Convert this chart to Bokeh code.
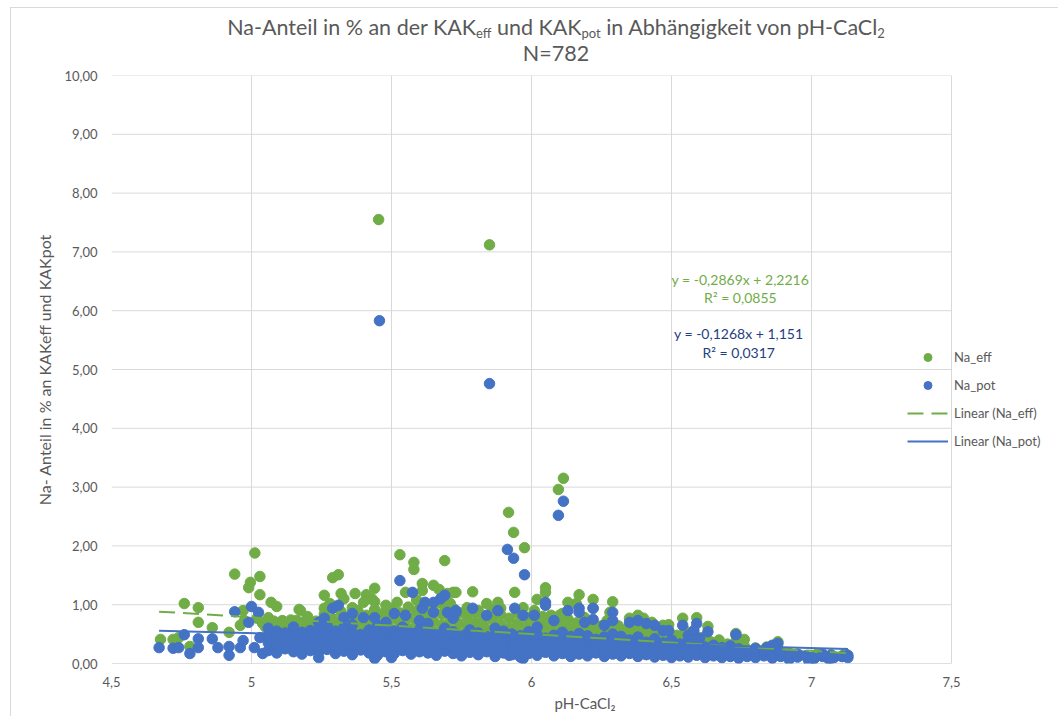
from bokeh.plotting import figure
from bokeh.models import Div, Legend, LegendItem, Label, CustomJSTickFormatter, FixedTicker
from bokeh.layouts import column
from bokeh.embed import file_html
from bokeh.resources import INLINE

# ---------------- data ----------------
x_ticks = [4.5, 5.0, 5.5, 6.0, 6.5, 7.0, 7.5]
y_ticks = [0, 1, 2, 3, 4, 5, 6, 7, 8, 9, 10]

# Na_eff: scattered / isolated points
eff_points = [
    (5.454, 7.55), (5.85, 7.12), (6.096, 2.96), (6.114, 3.15), (5.918, 2.57), (5.936, 2.23), (5.975, 1.97),
    (5.012, 1.88), (4.94, 1.52), (5.03, 1.48), (4.996, 1.38), (4.99, 1.29), (5.03, 1.17), (4.76, 1.02),
    (4.81, 0.95), (5.07, 1.04), (5.09, 0.97), (5.17, 0.92), (4.81, 0.70), (4.86, 0.61), (4.92, 0.53),
    (4.97, 0.90), (4.975, 0.73), (4.96, 0.65), (4.675, 0.41), (4.72, 0.41), (4.74, 0.44), (4.78, 0.29),
    (5.06, 0.78), (5.07, 0.70), (5.09, 0.61), (5.11, 0.73), (5.14, 0.68), (5.16, 0.73), (5.19, 0.68),
    (5.02, 0.77), (5.04, 0.68),
    (5.53, 1.85), (5.58, 1.72), (5.58, 1.60), (5.69, 1.75), (5.29, 1.46), (5.31, 1.51), (5.26, 1.16),
    (5.32, 1.19), (5.37, 1.19), (5.41, 1.17), (5.44, 1.28), (5.175, 0.90), (5.26, 0.94), (5.28, 1.02),
    (5.33, 1.10), (5.36, 0.95), (5.40, 1.04), (5.43, 1.10), (5.44, 0.90), (5.48, 0.99), (5.52, 1.04),
    (5.55, 1.21), (5.61, 1.36), (5.65, 1.33), (5.67, 1.26), (5.70, 1.19), (5.72, 1.21), (5.61, 1.24),
    (5.60, 0.94), (5.63, 0.87), (5.70, 0.90), (5.72, 0.94), (5.175, 0.70), (5.21, 0.70), (5.24, 0.61),
    (5.73, 1.21), (5.79, 1.22), (5.94, 1.21), (6.05, 1.29), (6.05, 1.21), (6.02, 1.09), (6.17, 1.17),
    (6.16, 1.02), (6.13, 1.04), (6.22, 1.09), (6.22, 0.94), (5.84, 1.02), (5.88, 1.04), (5.71, 1.02),
    (5.76, 0.87), (5.81, 0.90), (5.89, 0.94), (5.97, 0.95), (6.01, 0.87), (6.07, 0.82), (6.11, 0.85),
    (6.26, 0.61), (6.27, 0.73),
    (6.29, 1.05), (6.28, 0.87), (6.26, 0.65), (6.35, 0.77), (6.38, 0.82), (6.40, 0.77), (6.43, 0.70),
    (6.47, 0.65), (6.49, 0.66), (6.54, 0.77), (6.59, 0.78), (6.63, 0.63), (6.73, 0.51), (6.76, 0.41),
    (6.88, 0.37),
]

# Na_eff: dense band, as (pH, [values])
eff_columns = [
    (5.05, [0.45, 0.62]), (5.08, [0.38, 0.55, 0.72]), (5.11, [0.50, 0.66]), (5.14, [0.42, 0.58, 0.74]),
    (5.17, [0.36, 0.52, 0.68]), (5.20, [0.47, 0.63, 0.80]), (5.23, [0.40, 0.56, 0.72]),
    (5.26, [0.50, 0.66, 0.84]), (5.29, [0.44, 0.60, 0.76]), (5.32, [0.53, 0.70, 0.88]),
    (5.35, [0.46, 0.62, 0.80]), (5.38, [0.55, 0.72, 0.90]), (5.41, [0.48, 0.65, 0.82]),
    (5.44, [0.57, 0.74, 0.92, 1.05]), (5.47, [0.50, 0.67, 0.85]), (5.50, [0.58, 0.76, 0.93]),
    (5.53, [0.52, 0.69, 0.86]), (5.56, [0.60, 0.78, 0.96]), (5.59, [0.54, 0.71, 0.88, 1.08]),
    (5.62, [0.61, 0.79, 0.97]), (5.65, [0.55, 0.72, 0.90]), (5.68, [0.49, 0.66, 0.84, 1.02]),
    (5.71, [0.57, 0.74, 0.80]), (5.74, [0.51, 0.68, 0.86]), (5.77, [0.45, 0.62, 0.79, 0.95]),
    (5.80, [0.53, 0.70, 0.87]), (5.83, [0.47, 0.64, 0.80]), (5.86, [0.42, 0.58, 0.75, 0.92]),
    (5.89, [0.50, 0.66, 0.83]), (5.92, [0.44, 0.60, 0.77]), (5.95, [0.52, 0.68, 0.86]),
    (5.98, [0.46, 0.62, 0.79]), (6.01, [0.40, 0.56, 0.73, 0.90]), (6.04, [0.48, 0.64, 0.80]),
    (6.07, [0.42, 0.58, 0.74]), (6.10, [0.50, 0.66, 0.82]), (6.13, [0.44, 0.60, 0.76]),
    (6.16, [0.38, 0.53, 0.69]), (6.19, [0.46, 0.62, 0.78]), (6.22, [0.40, 0.55, 0.71]),
    (6.25, [0.34, 0.49, 0.64]), (6.28, [0.42, 0.57, 0.72]), (6.31, [0.36, 0.50, 0.64]),
    (6.34, [0.30, 0.44, 0.58]), (6.37, [0.38, 0.52, 0.66]), (6.40, [0.32, 0.46, 0.60]),
    (6.43, [0.27, 0.40, 0.54]), (6.46, [0.34, 0.47, 0.60]), (6.49, [0.28, 0.41, 0.55]),
    (6.52, [0.24, 0.36, 0.48]), (6.55, [0.30, 0.42, 0.55]), (6.58, [0.25, 0.37, 0.50]),
    (6.61, [0.21, 0.32, 0.44]), (6.64, [0.26, 0.37]), (6.67, [0.20, 0.30, 0.40]), (6.70, [0.23, 0.33]),
    (6.73, [0.18, 0.28, 0.38]), (6.76, [0.21, 0.30]), (6.80, [0.17, 0.26]), (6.84, [0.20, 0.28]),
    (6.88, [0.15, 0.24]), (6.92, [0.18]), (6.96, [0.14]), (7.02, [0.16]), (7.07, [0.15]), (7.12, [0.17]),
]

# Na_pot: scattered / isolated points
pot_points = [
    (5.457, 5.83), (5.85, 4.76), (6.096, 2.52), (6.114, 2.76), (5.914, 1.94), (5.936, 1.79), (5.975, 1.51),
    (5.0, 0.97), (4.94, 0.88), (5.025, 0.87), (4.99, 0.70), (4.76, 0.49), (4.67, 0.27), (4.72, 0.26),
    (4.74, 0.27), (4.78, 0.17), (4.81, 0.27), (4.81, 0.42), (4.86, 0.42), (4.88, 0.27), (4.92, 0.29),
    (4.92, 0.14), (4.96, 0.27), (4.97, 0.39), (5.01, 0.27), (5.03, 0.44), (5.04, 0.17),
    (5.53, 1.41), (5.575, 1.21), (5.69, 1.16), (5.675, 1.10), (5.62, 1.04), (5.65, 1.04), (5.61, 0.94),
    (5.29, 0.94), (5.31, 0.99), (5.36, 0.85), (5.33, 0.78), (5.26, 0.77), (5.21, 0.56), (5.24, 0.70),
    (5.40, 0.78), (5.44, 0.78), (5.48, 0.70), (5.51, 0.85), (5.55, 0.82), (5.60, 0.73), (5.65, 0.87),
    (5.70, 0.87), (5.73, 0.90), (5.72, 0.77), (5.24, 0.10), (5.44, 0.085), (5.50, 0.10),
    (6.05, 1.04), (6.05, 0.99), (5.94, 0.94), (5.79, 0.94), (5.73, 0.87), (6.13, 0.90), (6.17, 0.94),
    (6.17, 0.87), (6.22, 0.94), (6.22, 0.75), (5.84, 0.82), (5.88, 0.90), (5.97, 0.82), (6.01, 0.82),
    (6.08, 0.73), (6.19, 0.70), (6.26, 0.65), (5.97, 0.085), (5.92, 0.14),
    (6.29, 0.87), (6.29, 0.73), (6.35, 0.70), (6.38, 0.73), (6.41, 0.68), (6.44, 0.65), (6.47, 0.56),
    (6.49, 0.56), (6.54, 0.65), (6.59, 0.68), (6.58, 0.56), (6.63, 0.54), (6.60, 0.43), (6.73, 0.49),
    (6.56, 0.48), (6.88, 0.34), (6.86, 0.31), (6.84, 0.27), (6.99, 0.05), (7.01, 0.085), (7.06, 0.085),
    (7.08, 0.10), (7.11, 0.12),
]

# Na_pot: dense band, as (pH, [values])
pot_columns = [
    (5.06, [0.22, 0.35, 0.48, 0.60]), (5.09, [0.18, 0.30, 0.42, 0.55]), (5.12, [0.25, 0.38, 0.52]),
    (5.15, [0.20, 0.33, 0.46, 0.62]), (5.18, [0.16, 0.28, 0.40, 0.53]), (5.21, [0.22, 0.36, 0.49]),
    (5.24, [0.19, 0.31, 0.44, 0.58]), (5.27, [0.24, 0.37, 0.50, 0.64]), (5.30, [0.17, 0.29, 0.42, 0.55]),
    (5.33, [0.21, 0.34, 0.47, 0.61]), (5.36, [0.15, 0.27, 0.40, 0.53, 0.66]), (5.39, [0.23, 0.36, 0.49]),
    (5.42, [0.18, 0.30, 0.43, 0.57]), (5.45, [0.14, 0.26, 0.39, 0.52, 0.64]), (5.48, [0.20, 0.33, 0.46, 0.59]),
    (5.51, [0.17, 0.29, 0.41, 0.55]), (5.54, [0.22, 0.35, 0.48, 0.62]), (5.57, [0.16, 0.28, 0.40, 0.53]),
    (5.60, [0.20, 0.32, 0.45, 0.58]), (5.63, [0.18, 0.30, 0.43, 0.56, 0.68]), (5.66, [0.14, 0.25, 0.38, 0.50]),
    (5.69, [0.21, 0.34, 0.47, 0.60]), (5.72, [0.17, 0.29, 0.41, 0.54]), (5.75, [0.13, 0.24, 0.36, 0.49]),
    (5.78, [0.19, 0.31, 0.44, 0.57]), (5.81, [0.15, 0.27, 0.39, 0.52]), (5.84, [0.20, 0.33, 0.46]),
    (5.87, [0.12, 0.23, 0.35, 0.48, 0.60]), (5.90, [0.18, 0.30, 0.42, 0.55]), (5.93, [0.15, 0.26, 0.38, 0.50]),
    (5.96, [0.11, 0.22, 0.34, 0.47]), (5.99, [0.17, 0.29, 0.41, 0.54]), (6.02, [0.14, 0.25, 0.37, 0.49, 0.62]),
    (6.05, [0.19, 0.31, 0.43]), (6.08, [0.13, 0.24, 0.36, 0.48]), (6.11, [0.17, 0.28, 0.40, 0.53]),
    (6.14, [0.12, 0.23, 0.34, 0.46]), (6.17, [0.16, 0.27, 0.39, 0.51]), (6.20, [0.13, 0.24, 0.35, 0.47]),
    (6.23, [0.18, 0.29, 0.41]), (6.26, [0.12, 0.22, 0.33, 0.45]), (6.29, [0.16, 0.26, 0.38, 0.50]),
    (6.32, [0.13, 0.23, 0.34, 0.46]), (6.35, [0.17, 0.28, 0.40]), (6.38, [0.12, 0.22, 0.33, 0.45]),
    (6.41, [0.15, 0.25, 0.36]), (6.44, [0.11, 0.21, 0.31, 0.42]), (6.47, [0.14, 0.24, 0.35]),
    (6.50, [0.10, 0.19, 0.29, 0.40]), (6.53, [0.13, 0.23, 0.33]), (6.56, [0.11, 0.20, 0.30, 0.40]),
    (6.59, [0.14, 0.24, 0.34]), (6.62, [0.10, 0.19, 0.28]), (6.65, [0.13, 0.22, 0.31]),
    (6.68, [0.10, 0.18, 0.27]), (6.71, [0.12, 0.21, 0.30]), (6.74, [0.09, 0.17, 0.25]), (6.77, [0.12, 0.20]),
    (6.80, [0.10, 0.18, 0.26]), (6.83, [0.13, 0.21]), (6.86, [0.09, 0.16]), (6.89, [0.12, 0.20]),
    (6.92, [0.07, 0.14]), (6.95, [0.11, 0.16]), (6.98, [0.13]), (7.00, [0.10]), (7.04, [0.12, 0.16]),
    (7.07, [0.09, 0.14]), (7.11, [0.12]), (7.13, [0.14, 0.10]),
]

# linear trend lines (from the equations shown in the chart)
trend_eff = (-0.2869, 2.2216)
trend_pot = (-0.1268, 1.151)
eq_eff = ["y = -0,2869x + 2,2216", "R² = 0,0855"]
eq_pot = ["y = -0,1268x + 1,151", "R² = 0,0317"]

# ---------------- assemble ----------------
def flatten(points, columns):
    xs = [p[0] for p in points]
    ys = [p[1] for p in points]
    for cx, vals in columns:
        for v in vals:
            xs.append(cx)
            ys.append(v)
    return xs, ys

ph_eff, na_eff = flatten(eff_points, eff_columns)
ph_pot, na_pot = flatten(pot_points, pot_columns)

GREEN = "#70AD47"
BLUE = "#4472C4"
NAVY = "#1F3F80"
GREY = "#595959"
GRID = "#D9D9D9"
FONT = "Lato"

SUB = '<sub style="font-size:13px;line-height:0;vertical-align:-0.25em">'
title = Div(
    text=('<div style="width:1058px;box-sizing:border-box;padding-left:54px;padding-top:14px;'
          'text-align:center;font-family:Lato;font-size:21.5px;line-height:26px;color:#595959;">'
          'Na-Anteil in % an der KAK' + SUB + 'eff</sub> und KAK' + SUB + 'pot</sub>'
          ' in Abhängigkeit von pH-CaCl' + SUB + '2</sub><br>N=782</div>'),
    width=1058, height=65, margin=0,
)

# plot area spans 4.5..7.5 (x = 111..951 px); the frame runs on to the right edge for the legend
px_per_unit = 280.0
x_end = 4.5 + (1058 - 111) / px_per_unit

p = figure(width=1058, height=651, x_range=(4.5, x_end), y_range=(0, 10),
           output_backend="svg", toolbar_location=None, margin=0,
           min_border_left=111, min_border_right=0, min_border_top=10, min_border_bottom=53)
p.outline_line_color = None
p.background_fill_color = "white"
p.border_fill_alpha = 0

for ax in (p.xaxis, p.yaxis):
    ax.major_tick_line_color = None
    ax.minor_tick_line_color = None
    ax.major_tick_out = 0
    ax.major_tick_in = 0
    ax.axis_line_color = None
    ax.major_label_text_font = FONT
    ax.major_label_text_font_size = "13px"
    ax.major_label_text_color = GREY
    ax.axis_label_text_font = FONT
    ax.axis_label_text_color = GREY
    ax.axis_label_text_font_style = "normal"

p.xaxis.ticker = FixedTicker(ticks=x_ticks)
p.yaxis.ticker = FixedTicker(ticks=y_ticks)
p.xaxis.formatter = CustomJSTickFormatter(code="return tick.toString().replace('.', ',');")
p.yaxis.formatter = CustomJSTickFormatter(code="return tick.toFixed(2).replace('.', ',');")
p.xaxis.major_label_standoff = 13
p.yaxis.major_label_standoff = 14
p.xaxis.axis_label = "pH-CaCl₂"
p.yaxis.axis_label = "Na- Anteil in % an KAKeff und KAKpot"
p.xaxis.axis_label_text_font_size = "15px"
p.yaxis.axis_label_text_font_size = "16px"
p.xaxis.axis_label_standoff = 4
p.yaxis.axis_label_standoff = 7
p.xgrid.grid_line_color = GRID
p.ygrid.grid_line_color = None

# horizontal gridlines only across the plot area 4.5..7.5
n = len(y_ticks)
p.segment(x0=[x_ticks[0]] * n, y0=y_ticks, x1=[x_ticks[-1]] * n, y1=y_ticks,
          line_color=[("#BFBFBF" if t == 0 else GRID) for t in y_ticks], line_width=1)

r_eff = p.scatter(ph_eff, na_eff, size=10.5, fill_color=GREEN, line_color=GREEN)
r_pot = p.scatter(ph_pot, na_pot, size=10.5, fill_color=BLUE, line_color=BLUE)

x0 = min(ph_eff + ph_pot)
x1 = max(ph_eff + ph_pot)
r_teff = p.line([x0, x1], [trend_eff[0] * x0 + trend_eff[1], trend_eff[0] * x1 + trend_eff[1]],
                line_color=GREEN, line_width=2, line_dash="16 8")
r_tpot = p.line([x0, x1], [trend_pot[0] * x0 + trend_pot[1], trend_pot[0] * x1 + trend_pot[1]],
                line_color=BLUE, line_width=2)

for (txt, yv) in zip(eq_eff, [6.53, 6.22]):
    p.add_layout(Label(x=6.746, y=yv, text=txt, text_align="center", text_baseline="middle",
                       text_font=FONT, text_font_size="14px", text_color=GREEN))
for (txt, yv) in zip(eq_pot, [5.61, 5.29]):
    p.add_layout(Label(x=6.74, y=yv, text=txt, text_align="center", text_baseline="middle",
                       text_font=FONT, text_font_size="14px", text_color=NAVY))

legend = Legend(items=[
    LegendItem(label="Na_eff", renderers=[r_eff]),
    LegendItem(label="Na_pot", renderers=[r_pot]),
    LegendItem(label="Linear (Na_eff)", renderers=[r_teff]),
    LegendItem(label="Linear (Na_pot)", renderers=[r_tpot]),
], location=(796, 212), padding=0, margin=0, spacing=8, glyph_height=20, glyph_width=41,
    label_height=20, label_standoff=6, background_fill_alpha=0, border_line_color=None,
    label_text_font=FONT, label_text_font_size="13px", label_text_color=GREY)
p.add_layout(legend)

# thin chart-area border (left and top edges) as in the reference
chart_bg = ("linear-gradient(#D9D9D9, #D9D9D9) 10px 7px / 1px 709px no-repeat, "
            "linear-gradient(#D9D9D9, #D9D9D9) 10px 7px / 1048px 1px no-repeat, #ffffff")
layout = column(title, p, margin=0, styles={"background": chart_bg})
open("out.html", "w").write(file_html(layout, INLINE))
